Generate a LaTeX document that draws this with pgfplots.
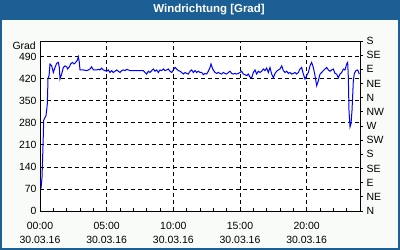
\documentclass[border=0pt]{standalone}
\usepackage{fontspec}
\setmainfont{Liberation Sans}
\usepackage{pgfplots}
\pgfplotsset{compat=1.18}
\definecolor{titleblue}{RGB}{28,95,148}
\definecolor{bgc}{RGB}{248,251,248}
\definecolor{lineblue}{RGB}{0,0,255}
\newcommand{\tf}{\fontsize{10.5}{14}\selectfont}
\begin{document}
\begin{tikzpicture}[x=1bp,y=1bp]
\fill[bgc] (0,0) rectangle (400,250);
\fill[titleblue] (0,230) rectangle (400,250);
\node[text=white, font=\fontsize{11.5}{13}\selectfont\bfseries] at (209,240.5) {Windrichtung [Grad]};
\draw[titleblue, line width=2bp] (1,1) rectangle (399,249);
\node[anchor=east, font=\tf, inner sep=0pt] at (36,204.5) {Grad};
\begin{axis}[
  at={(40bp,39bp)}, anchor=south west,
  scale only axis, width=320bp, height=170bp,
  xmin=0, xmax=24, ymin=0, ymax=540,
  axis background/.style={fill=white},
  xtick={0,5,10,15,20},
  xticklabels={{00:00\\30.03.16},{05:00\\30.03.16},{10:00\\30.03.16},{15:00\\30.03.16},{20:00\\30.03.16}},
  xticklabel style={align=center, font=\tf, yshift=-8bp},
  minor xtick={0,1,...,24},
  ytick={0,70,...,490},
  yticklabel style={font=\tf},
  /pgf/number format/assume math mode=true,
  xtick pos=bottom, ytick pos=left,
  tick align=inside,
  major tick length=3bp, minor tick length=3bp,
  tick style={black, line width=0.8bp},
  grid=major,
  major grid style={black, dash pattern=on 4bp off 3bp, line width=0.8bp},
  axis line style={black, line width=0.8bp},
]
\addplot[lineblue, line width=1bp, mark=none] coordinates {
(0.05,95) (0.1,82) (0.15,107) (0.22,200) (0.28,288) (0.35,295) (0.45,303) (0.55,340) (0.6,420) (0.68,430) (0.75,467)
(0.875,461) (1.0,440) (1.125,456) (1.25,469) (1.375,472) (1.45,456) (1.5,419) (1.625,435) (1.75,456) (1.875,461)
(2.0,458) (2.075,451) (2.2,458) (2.3,467) (2.425,472) (2.55,467) (2.675,472) (2.8,479) (2.875,490) (2.95,472)
(3.0,448) (3.25,448) (3.5,446) (3.625,448) (3.75,451) (3.875,458) (4.0,448) (4.25,448) (4.375,450) (4.5,448)
(4.625,454) (4.75,448) (4.875,446) (5.0,444) (5.125,448) (5.25,440) (5.375,446) (5.5,440) (5.625,444) (5.75,448)
(5.875,444) (6.0,440) (6.125,446) (6.25,448) (6.375,446) (6.5,450) (6.625,448) (6.75,446) (7.0,446) (7.25,446)
(7.5,446) (7.75,446) (7.875,440) (8.0,435) (8.125,444) (8.25,440) (8.375,446) (8.5,451) (8.625,444) (8.75,448)
(8.875,440) (9.0,448) (9.125,446) (9.25,451) (9.375,446) (9.5,448) (9.625,451) (9.75,444) (9.875,440) (10.0,448)
(10.125,456) (10.25,451) (10.375,446) (10.5,444) (10.625,440) (10.75,435) (10.875,440) (11.0,437) (11.125,435)
(11.25,444) (11.375,448) (11.5,440) (11.625,446) (11.75,440) (11.875,444) (12.0,440) (12.125,440) (12.25,433)
(12.375,437) (12.5,435) (12.625,444) (12.75,456) (12.825,467) (12.95,451) (13.125,440) (13.25,437) (13.375,440)
(13.5,437) (13.625,435) (13.75,440) (13.875,437) (14.0,435) (14.125,440) (14.25,444) (14.375,437) (14.5,435)
(14.625,437) (14.75,435) (14.875,437) (15.0,440) (15.125,444) (15.25,435) (15.375,433) (15.5,430) (15.625,435)
(15.75,425) (15.875,423) (16.0,440) (16.125,448) (16.25,435) (16.375,444) (16.5,440) (16.625,444) (16.75,451)
(16.875,446) (17.0,454) (17.125,440) (17.25,456) (17.375,435) (17.5,423) (17.625,437) (17.75,444) (17.875,448)
(18.0,451) (18.125,461) (18.25,446) (18.375,440) (18.5,444) (18.625,437) (18.75,440) (18.875,435) (19.0,437)
(19.125,440) (19.25,435) (19.375,440) (19.5,451) (19.625,456) (19.75,435) (19.875,419) (20.0,430) (20.125,440)
(20.25,461) (20.375,472) (20.5,456) (20.625,430) (20.75,398) (20.875,414) (21.0,435) (21.125,440) (21.25,446)
(21.375,451) (21.5,456) (21.625,448) (21.75,444) (21.875,448) (22.0,451) (22.125,437) (22.25,435) (22.375,423)
(22.5,435) (22.625,440) (22.75,451) (22.875,448) (23.0,467) (23.075,472) (23.125,425) (23.175,319) (23.25,267)
(23.325,277) (23.4,319) (23.5,414) (23.575,437) (23.7,446) (23.825,448) (23.95,435)
};
\end{axis}
\begin{axis}[
  at={(40bp,39bp)}, anchor=south west,
  scale only axis, width=320bp, height=170bp,
  xmin=0, xmax=24, ymin=0, ymax=540,
  axis x line=none, axis y line*=right,
  ytick={0,45,...,540},
  yticklabels={N,NE,E,SE,S,SW,W,NW,N,NE,E,SE,S},
  yticklabel style={font=\tf},
  tick align=outside, major tick length=3bp,
  tick style={black, line width=0.8bp},
  axis line style={black, line width=0.8bp},
]
\addplot[draw=none] coordinates {(0,0)};
\end{axis}
\pgfresetboundingbox
\useasboundingbox (0,0) rectangle (400,250);
\end{tikzpicture}
\end{document}
